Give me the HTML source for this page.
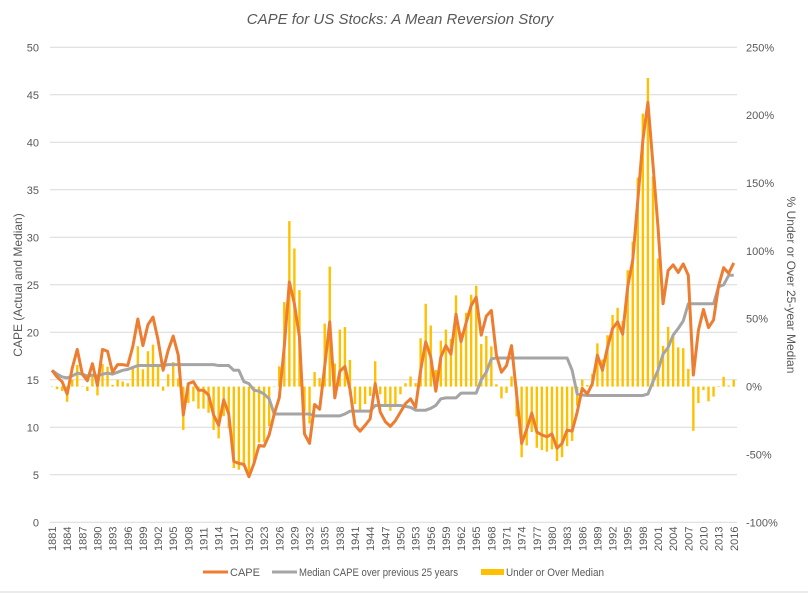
<!DOCTYPE html>
<html><head><meta charset="utf-8"><style>
body{margin:0;background:#fff;}
svg{display:block;font-family:"Liberation Sans",sans-serif;}
</style></head><body>
<svg id="chart" width="808" height="594" viewBox="0 0 808 594" xmlns="http://www.w3.org/2000/svg">
<rect width="808" height="594" fill="#fff"/>
<text x="400" y="24" text-anchor="middle" font-size="15" font-style="italic" fill="#595959">CAPE for US Stocks: A Mean Reversion Story</text>
<g id="grid"></g>
<g id="bars"></g>
<g id="lines"></g>
<g id="axes"></g>
<text transform="translate(22,285) rotate(-90)" text-anchor="middle" font-size="12" fill="#595959">CAPE (Actual and Median)</text>
<text transform="translate(787,285) rotate(90)" text-anchor="middle" font-size="12" fill="#595959">% Under or Over 25-year Median</text>
<g>
<g><line x1="203" y1="572" x2="228" y2="572" stroke="#ED7D31" stroke-width="3"/><text x="230" y="576" font-size="11" fill="#595959">CAPE</text></g>
<g><line x1="272" y1="572" x2="297" y2="572" stroke="#A5A5A5" stroke-width="3"/><text x="299" y="576" font-size="11" fill="#595959" textLength="159" lengthAdjust="spacingAndGlyphs">Median CAPE over previous 25 years</text></g>
<g><rect x="481" y="569" width="23" height="6" fill="#FFC000"/><text x="506" y="576" font-size="11" fill="#595959" textLength="98" lengthAdjust="spacingAndGlyphs">Under or Over Median</text></g>
</g>
<line x1="0" y1="592" x2="808" y2="592" stroke="#d9d9d9" stroke-width="1"/>
</svg>
<script>
const startYear = 1881;
const cape = [16.0,15.3,14.8,13.5,16.2,18.2,15.6,14.9,16.7,14.4,18.2,18.0,15.8,16.6,16.6,16.5,18.5,21.4,18.6,20.8,
21.6,19.2,16.0,18.1,19.6,17.6,11.3,14.6,14.8,13.9,13.9,13.4,11.3,10.2,12.9,11.4,6.4,6.2,6.1,4.8,
6.2,8.1,8.0,9.2,11.4,13.1,18.5,25.3,23.0,19.5,9.3,8.3,12.4,11.9,16.4,21.1,13.1,15.9,16.4,14.0,
10.2,9.6,10.2,10.9,14.6,11.6,10.6,10.1,10.7,11.6,12.5,13.0,12.1,16.0,19.0,17.4,13.8,17.4,18.6,17.7,
21.9,19.0,21.0,22.8,23.7,19.7,21.7,22.3,17.6,15.8,16.5,18.6,13.5,8.3,9.8,11.5,9.5,9.2,9.0,9.3,
7.8,8.3,9.7,9.6,11.6,14.1,13.5,14.6,17.6,16.0,18.4,20.4,21.1,19.8,24.8,27.6,33.9,40.2,44.2,37.7,
31.1,23.0,26.5,27.1,26.3,27.2,26.0,15.5,20.2,22.4,20.5,21.3,24.9,26.8,26.2,27.3];
const median = [16.0,15.6,15.3,15.2,15.4,15.7,15.6,15.4,15.5,15.4,15.6,15.7,15.6,15.8,16.0,16.1,16.3,16.5,16.5,16.5,
16.5,16.5,16.5,16.6,16.6,16.6,16.6,16.6,16.6,16.6,16.6,16.6,16.6,16.5,16.5,16.5,16.0,16.0,14.8,14.6,
13.9,13.8,13.5,13.0,11.4,11.4,11.4,11.4,11.4,11.4,11.4,11.4,11.2,11.2,11.2,11.2,11.2,11.2,11.4,11.7,
11.7,11.7,11.7,11.7,12.3,12.3,12.3,12.3,12.3,12.3,12.2,12.1,11.8,11.8,11.8,12.0,12.3,13.0,13.1,13.1,
13.1,13.6,13.6,13.6,13.6,15.0,15.8,17.2,17.3,17.3,17.3,17.3,17.3,17.3,17.3,17.3,17.3,17.3,17.3,17.3,
17.3,17.3,17.3,16.0,13.5,13.4,13.35,13.35,13.35,13.35,13.35,13.35,13.35,13.35,13.35,13.35,13.35,13.35,13.5,14.8,
16.0,17.7,18.4,19.7,20.4,21.2,23.0,23.0,23.0,23.0,23.0,23.0,24.8,25.0,26.0,26.0];
const leftTicks = [0,5,10,15,20,25,30,35,40,45,50];
const rightTicks = ["-100%","-50%","0%","50%","100%","150%","200%","250%"];

const NS = "http://www.w3.org/2000/svg";
const X0 = 52, DX = 5.05, Y0 = 522.3, Y50 = 47.3, PL = 50, PR = 737;
const xs = i => X0 + DX * i;
const yL = v => Y0 - (Y0 - Y50) * v / 50;
const yR = p => Y0 - (Y0 - Y50) * (p + 100) / 350;
function mk(tag, attrs, parent){const e=document.createElementNS(NS,tag);for(const k in attrs)e.setAttribute(k,attrs[k]);parent.appendChild(e);return e;}
const grid=document.getElementById('grid'), bars=document.getElementById('bars'), lines=document.getElementById('lines'), axes=document.getElementById('axes');

leftTicks.forEach(v=>{
  const g = mk('line',{x1:PL,x2:PR,y1:yL(v),y2:yL(v),stroke:'#d9d9d9','stroke-width':1},grid);
  
  
  const t = mk('text',{x:39,y:yL(v)+4,'text-anchor':'end','font-size':11,fill:'#595959'},axes);
  t.textContent = v;
  
  
});
rightTicks.forEach(s=>{
  const p = parseFloat(s);
  const t = mk('text',{x:746,y:yR(p)+4,'font-size':11,fill:'#595959'},axes);
  t.textContent = s;
  
  
});
cape.forEach((c,i)=>{
  const pct = (c/median[i]-1)*100;
  const y1 = yR(0), y2 = yR(pct);
  const r = mk('rect',{x:xs(i)-1.2,y:Math.min(y1,y2),width:2.4,height:Math.max(Math.abs(y2-y1),0.5),fill:'#FFC000'},bars);
  
  
  if(i%3===0){
    const t = mk('text',{transform:`translate(${xs(i)+4},${551}) rotate(-90)`,'font-size':11,fill:'#595959'},axes);
    t.textContent = startYear+i;
    
    
  }
});
const pm = median.map((v,i)=>xs(i).toFixed(2)+','+yL(v).toFixed(2)).join(' ');
const medLine = mk('polyline',{points:pm,fill:'none',stroke:'#A5A5A5','stroke-width':3,'stroke-linejoin':'round'},lines);


const pc = cape.map((v,i)=>xs(i).toFixed(2)+','+yL(v).toFixed(2)).join(' ');
const capeLine = mk('polyline',{points:pc,fill:'none',stroke:'#ED7D31','stroke-width':3,'stroke-linejoin':'round'},lines);


</script>
</body></html>
